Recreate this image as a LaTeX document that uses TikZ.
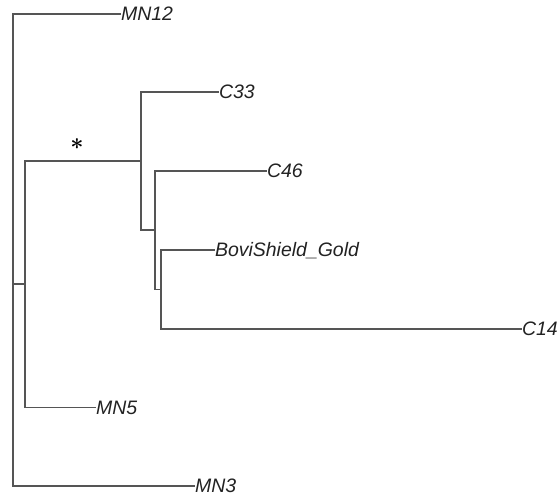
\documentclass[tikz,border=0pt]{standalone}
\usepackage{fontspec}
\setmainfont{Liberation Sans}
\definecolor{branch}{HTML}{555555}
\definecolor{labeltext}{HTML}{222222}
\newsavebox\supportbox
\AtBeginDocument{\sbox\supportbox{\fontsize{19}{19}\selectfont\boldmath$\ast$}}
\tikzset{
  branchline/.style={draw=branch, line width=0.8pt, line cap=rect},
  leaf/.style={anchor=base west, inner sep=0pt, xshift=0.6pt, yshift=-5.2pt,
    font=\fontsize{14.6}{16}\selectfont\itshape, text=labeltext},
}
\begin{document}
\begin{tikzpicture}[x=0.75pt, y=-0.75pt]
\useasboundingbox (0,0) rectangle (558,497);
% internal nodes
\coordinate (root) at (13,284);
\coordinate (A) at (25,284);
\coordinate (B) at (141,161);
\coordinate (C) at (155,230);
\coordinate (D) at (161,289.5);
% tips
\coordinate (tMN12) at (120,14);
\coordinate (tC33) at (218,92);
\coordinate (tC46) at (266,171);
\coordinate (tBovi) at (214,250);
\coordinate (tC14) at (521,329);
\coordinate (tMN5) at (95,407.5);
\coordinate (tMN3) at (194,486);
% labels
\node[leaf] (MN12) at (tMN12) {MN12};
\node[leaf] (C33) at (tC33) {C33};
\node[leaf] (C46) at (tC46) {C46};
\node[leaf] (Bovi) at (tBovi) {BoviShield\_Gold};
\node[leaf] (C14) at (tC14) {C14};
\node[leaf] (MN5) at (tMN5) {MN5};
\node[leaf] (MN3) at (tMN3) {MN3};
% branches
\draw[branchline] (tMN12) -| (root) |- (tMN3);
\draw[branchline] (root) -- (A);
\draw[branchline] (B) -| (A) |- (tMN5);
\draw[branchline] (tC33) -| (B) |- (C);
\draw[branchline] (tC46) -| (C) |- (D);
\draw[branchline] (tBovi) -| (D) |- (tC14);
% support mark
\node[inner sep=0pt, text=black] (star) at (77,144) {\usebox\supportbox};
\end{tikzpicture}
\end{document}
